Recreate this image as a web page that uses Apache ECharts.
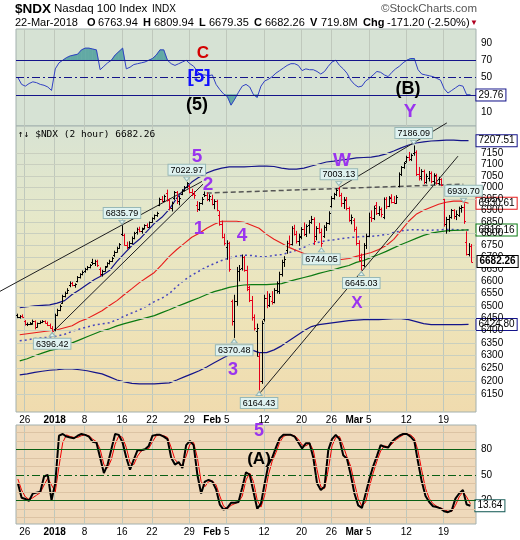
<!DOCTYPE html>
<html>
<head>
<meta charset="utf-8">
<script src="https://cdn.jsdelivr.net/npm/echarts@6/dist/echarts.min.js"></script>
<style>
html, body { margin: 0; padding: 0; background: #fff; }
#chart { width: 520px; height: 540px; }
</style>
</head>
<body>
<div id="chart"></div>
<script>
// trading days shown on the 2-hour chart
const days = [
  '2017-12-22','2017-12-26','2017-12-27','2017-12-28','2017-12-29',
  '2018-01-02','2018-01-03','2018-01-04','2018-01-05',
  '2018-01-08','2018-01-09','2018-01-10','2018-01-11','2018-01-12',
  '2018-01-16','2018-01-17','2018-01-18','2018-01-19',
  '2018-01-22','2018-01-23','2018-01-24','2018-01-25','2018-01-26',
  '2018-01-29','2018-01-30','2018-01-31','2018-02-01','2018-02-02',
  '2018-02-05','2018-02-06','2018-02-07','2018-02-08','2018-02-09',
  '2018-02-12','2018-02-13','2018-02-14','2018-02-15','2018-02-16',
  '2018-02-20','2018-02-21','2018-02-22','2018-02-23',
  '2018-02-26','2018-02-27','2018-02-28','2018-03-01','2018-03-02',
  '2018-03-05','2018-03-06','2018-03-07','2018-03-08','2018-03-09',
  '2018-03-12','2018-03-13','2018-03-14','2018-03-15','2018-03-16',
  '2018-03-19','2018-03-20','2018-03-21','2018-03-22'
]

// 2-hour bars, 3 per day: [open, high, low, close]
const bars = [
  [6462,6468,6450,6455],[6455,6462,6448,6458],[6458,6465,6452,6456],
  [6440,6442,6420,6425],[6425,6432,6418,6428],[6428,6434,6422,6430],
  [6428,6444,6424,6438],[6438,6441,6405,6415],[6415,6432,6412,6430],
  [6430,6440,6426,6436],[6436,6442,6430,6438],[6438,6441,6428,6432],
  [6432,6436,6418,6422],[6422,6428,6408,6412],[6412,6418,6396.42,6400],
  [6405,6468,6397,6462],[6462,6488,6458,6484],[6484,6505,6478,6500],
  [6512,6545,6508,6540],[6540,6558,6534,6552],[6552,6572,6548,6566],
  [6585,6600,6576,6594],[6594,6598,6580,6584],[6584,6592,6574,6588],
  [6600,6622,6596,6618],[6618,6634,6612,6630],[6630,6645,6625,6640],
  [6642,6656,6636,6652],[6652,6664,6646,6660],[6660,6672,6654,6668],
  [6680,6694,6668,6675],[6675,6690,6664,6684],[6684,6690,6660,6666],
  [6650,6658,6622,6632],[6632,6648,6620,6644],[6644,6664,6640,6660],
  [6664,6680,6658,6676],[6676,6690,6670,6686],[6686,6702,6680,6698],
  [6708,6728,6702,6724],[6724,6745,6720,6740],[6740,6760,6736,6756],
  [6800,6835.79,6790,6796],[6796,6800,6750,6754],[6754,6766,6735,6742],
  [6745,6768,6738,6762],[6762,6788,6756,6782],[6782,6808,6776,6804],
  [6808,6826,6796,6820],[6820,6830,6806,6812],[6812,6826,6800,6822],
  [6826,6840,6818,6836],[6836,6844,6824,6830],[6830,6852,6826,6848],
  [6852,6870,6846,6866],[6866,6882,6860,6878],[6878,6894,6872,6890],
  [6925,6955,6918,6950],[6950,6962,6935,6942],[6942,6968,6936,6962],
  [6975,6990,6938,6945],[6945,6952,6900,6910],[6910,6938,6895,6930],
  [6955,6984,6945,6978],[6978,6984,6928,6940],[6940,6962,6922,6952],
  [6972,6992,6966,6988],[6988,7006,6982,7000],[7000,7022.97,6996,7018],
  [7005,7012,6974,6980],[6980,6994,6962,6970],[6970,6984,6950,6966],
  [6922,6940,6893,6905],[6905,6936,6898,6930],[6930,6958,6924,6950],
  [6972,6982,6958,6968],[6968,6978,6940,6950],[6950,6970,6938,6962],
  [6950,6968,6922,6928],[6928,6948,6905,6940],[6940,6946,6896,6902],
  [6880,6898,6834,6842],[6842,6856,6780,6788],[6788,6800,6750,6760],
  [6745,6772,6690,6762],[6762,6766,6640,6652],[6520,6525,6420,6440],
  [6440,6545,6370.48,6520],[6520,6660,6500,6645],[6645,6668,6600,6652],
  [6655,6712,6645,6700],[6700,6706,6640,6648],[6648,6665,6560,6575],
  [6570,6582,6515,6525],[6525,6540,6440,6455],[6455,6465,6400,6410],
  [6400,6428,6296,6412],[6300,6312,6164.43,6200],[6200,6440,6190,6430],
  [6445,6545,6436,6530],[6530,6560,6490,6502],[6502,6550,6495,6540],
  [6520,6560,6505,6515],[6515,6572,6510,6565],[6565,6600,6550,6592],
  [6560,6640,6548,6632],[6632,6690,6620,6682],[6682,6705,6660,6695],
  [6730,6770,6715,6762],[6762,6792,6745,6755],[6755,6832,6750,6826],
  [6826,6838,6792,6800],[6800,6812,6758,6768],[6768,6800,6748,6792],
  [6785,6828,6776,6820],[6820,6848,6790,6798],[6798,6840,6786,6834],
  [6838,6858,6800,6852],[6852,6876,6842,6864],[6864,6870,6752,6768],
  [6792,6832,6772,6824],[6824,6846,6800,6808],[6808,6822,6744.05,6762],
  [6790,6836,6782,6828],[6828,6850,6812,6844],[6844,6896,6838,6890],
  [6918,6962,6912,6955],[6955,6976,6946,6970],[6970,6996,6962,6990],
  [6995,7003.13,6958,6965],[6965,6976,6915,6930],[6930,6958,6906,6945],
  [6950,6958,6900,6910],[6910,6916,6851,6860],[6860,6882,6840,6872],
  [6860,6866,6808,6820],[6820,6830,6750,6762],[6762,6772,6683,6700],
  [6690,6716,6645.03,6668],[6668,6760,6660,6752],[6752,6800,6735,6792],
  [6790,6890,6785,6872],[6872,6900,6850,6866],[6866,6920,6858,6912],
  [6925,6936,6880,6888],[6888,6918,6876,6905],[6905,6912,6870,6884],
  [6870,6956,6862,6948],[6948,6958,6906,6920],[6920,6962,6914,6954],
  [6958,6970,6930,6938],[6938,6962,6928,6932],[6932,6966,6928,6960],
  [7008,7066,7000,7060],[7060,7094,7050,7090],[7090,7112,7082,7108],
  [7116,7140,7108,7134],[7134,7157,7116,7124],[7124,7150,7116,7142],
  [7150,7186.09,7140,7158],[7158,7164,7050,7058],[7058,7090,7030,7040],
  [7050,7080,7030,7074],[7074,7078,7014,7024],[7024,7060,7016,7048],
  [7040,7072,7026,7064],[7064,7070,7018,7030],[7030,7062,7010,7054],
  [7050,7060,7012,7020],[7020,7046,7010,7036],[7036,7040,7005,7012],
  [6948,6950,6830,6840],[6840,6872,6800,6862],[6862,6880,6808,6870],
  [6872,6906,6864,6900],[6900,6905,6862,6874],[6874,6900,6858,6884],
  [6880,6916,6872,6908],[6908,6922,6890,6914],[6914,6930.70,6842,6853.46],
  [6763.94,6809.94,6708,6716],[6716,6760,6704,6748],[6748,6756,6679.35,6682.26]
]

// overlays, one value per day
const bbUpper = [6492,6496,6500,6502,6504,6511,6521,6546,6566,6587,
  6608,6624,6645,6683,6717,6750,6776,6810,6844,6870,
  6905,6953,6992,7023,7045,7063,7076,7085,7090,7090,
  7090,7092,7094,7094,7092,7085,7080,7080,7085,7094,
  7103,7112,7116,7121,7125,7130,7132,7134,7139,7148,
  7161,7175,7188,7197,7202,7206,7208,7210,7210,7208,7207.51]
const bbMid = [6359,6363,6368,6371,6374,6378,6385,6397,6406,6414,
  6422,6427,6431,6444,6458,6471,6483,6500,6517,6531,
  6550,6579,6605,6626,6643,6660,6674,6687,6697,6705,
  6709,6708,6703,6703,6708,6712,6720,6730,6742,6755,
  6764,6770,6774,6779,6783,6786,6788,6789,6792,6797,
  6805,6812,6816,6817,6815,6815,6816,6818,6818,6816,6816.16]
const bbLower = [6225,6229,6235,6239,6243,6245,6248,6248,6245,6241,
  6235,6229,6217,6205,6198,6192,6190,6190,6190,6192,
  6194,6205,6217,6229,6241,6256,6272,6288,6304,6320,
  6327,6323,6312,6312,6323,6339,6359,6379,6399,6416,
  6424,6428,6432,6436,6440,6442,6444,6444,6444,6446,
  6448,6448,6444,6436,6428,6424,6424,6424,6424,6424,6424.80]
const maRed = [6383,6387,6391,6395,6399,6403,6411,6419,6436,6448,
  6464,6480,6501,6521,6546,6570,6595,6616,6637,6670,
  6704,6733,6759,6785,6802,6823,6840,6853,6853,6853,
  6849,6836,6823,6797,6776,6759,6742,6729,6716,6708,
  6702,6697,6695,6691,6695,6704,6712,6720,6733,6750,
  6776,6814,6853,6883,6900,6913,6926,6935,6940,6940,6930.61]
const maGreen = [6280,6288,6300,6310,6320,6327,6339,6351,6363,6375,
  6387,6399,6407,6419,6428,6436,6444,6452,6460,6472,
  6484,6497,6509,6521,6533,6546,6558,6566,6575,6581,
  6585,6587,6587,6587,6589,6591,6600,6608,6616,6624,
  6633,6641,6649,6658,6666,6679,6687,6700,6712,6725,
  6740,6754,6767,6780,6793,6802,6808,6812,6814,6815,6816.16]

// indicators, two values per day
const rsi = [50,42,40,43,45,44,42,41,39,35, 60,67,70,73,75,76,77,82,84,84,
  83,82,59,63,67,70,76,80,84,60, 62,65,66,67,68,70,72,76,82,82,
  70,66,64,66,68,70,66,63,57,53, 53,52,53,42,36,31,28,18,25,33,
  40,42,39,30,27,40,46,48,51,55, 58,61,64,66,66,64,58,60,59,59,
  57,54,57,63,68,70,64,60,55,47, 42,39,40,46,49,53,57,56,53,51,
  56,60,63,67,70,72,72,59,54,53, 52,51,49,47,37,32,35,38,41,40, 30,29.76]
const stochK = [40,23,21.5,19.5,28,29,30,48,50,20, 40,96,98,95,94,93,96,98,97,95,
  89,88,70,52,62,80,98,97,88,70, 56,68,79,79,80,84,96,97,97,95,
  92,70,62,65,58,85,90,85,50,28, 42,44,42,33,15,9,11,17,17,18,
  35,53,50,30,10,16,40,62,70,82, 93,97,97,97,95,88,81,87,87,70,
  40,32,36,79,92,97,92,73,69,50, 28,14,11,28,45,60,72,85,83,82,
  89,93,96,98,98,95,90,65,42,25, 18,13,12,10.5,7,6,8,22,28,32, 15,13.64]
const stochD = [45,32,24,21,23,26,29,38,46,38, 30,60,88,97,95,94,94,96,97,96,
  92,89,80,62,58,68,86,96,94,82, 64,62,72,78,80,81,89,96,97,96,
  94,82,68,63,61,72,86,88,70,42, 36,42,43,38,25,13,10,14,16,18,
  25,44,52,42,20,12,26,50,66,76, 88,95,97,97,96,92,85,84,87,79,
  56,36,34,56,84,94,95,84,71,60, 40,22,13,18,36,52,66,78,84,83,
  86,91,94,97,98,97,93,78,55,34, 22,16,13,11,9,7,7,14,24,30, 24,16]

// axis ticks
const tickDates = ['2017-12-26','2018-01-02','2018-01-08','2018-01-16','2018-01-22','2018-01-29',
  '2018-02-05','2018-02-12','2018-02-20','2018-02-26','2018-03-05','2018-03-12','2018-03-19']
const tickText = ['26','2018','8','16','22','29','Feb 5','12','20','26','Mar 5','12','19']
const priceTicks = [6150,6200,6250,6300,6350,6400,6450,6500,6550,6600,6650,6700,
  6750,6800,6850,6900,6950,7000,7050,7100,7150]
const rsiTicks = [10,50,70,90]
const stochTicks = [20,50,80]
const stochGrid = [0,10,30,40,60,70,90,100]

// high/low callouts: [day, bar of day, side]
const callouts = [
  ['2017-12-29',2,'low'],['2018-01-16',0,'high'],['2018-01-26',2,'high'],
  ['2018-02-06',0,'low'],['2018-02-09',1,'low'],['2018-02-22',2,'low'],
  ['2018-02-27',0,'high'],['2018-03-02',0,'low'],['2018-03-13',0,'high'],
  ['2018-03-21',2,'high']
]

// drawn trend lines: [day0, price0, day1, price1, dashed]
const trendLines = [
  [-2.14,6559,24.87,7026,0],
  [4.81,6391,25.0,7014,0],
  [32.62,6155,59.09,7138,0],
  [43.3,7001,57.6,7288,0],
  [25.5,6975,59.8,7014,1]
]

const FONT = "'Liberation Sans', Arial, sans-serif"
const PURPLE = '#9a34ee'
const RED = '#e4001a'
const NAVY = '#14148a'
const TEAL = '#62a9a4'

const barX = i => Math.floor(i / 3) + ((i % 3) + 0.5) / 3
const daily = arr => arr.map((v, d) => [d + 0.5, v])
const halfX = h => h / 2 + 0.25
const half = arr => arr.map((v, h) => [halfX(h), v])
const tickPos = tickDates.map(d => days.indexOf(d) + 1 / 6)

const fmtTick = v => {
  const i = tickPos.findIndex(p => Math.abs(p - v) < 1e-4)
  if (i < 0) return ''
  const t = tickText[i]
  if (t === '2018') return '{b|2018}'
  if (t.indexOf(' ') > 0) {
    const [m, n] = t.split(' ')
    return '{b|' + m + '} ' + n + '{h|' + m + ' }'
  }
  return t
}

const xAxisFor = (gi, showLabels) => ({
  type: 'value', gridIndex: gi, min: 0, max: 61.5,
  axisLine: { show: false },
  axisTick: { show: false, customValues: tickPos },
  axisLabel: {
    show: showLabels, customValues: tickPos, formatter: fmtTick,
    fontFamily: FONT, fontSize: 10, color: '#000', margin: 3,
    rich: {
      b: { fontFamily: FONT, fontSize: 10, fontWeight: 'bold', color: '#000' },
      h: { fontFamily: FONT, fontSize: 10, fontWeight: 'bold', color: 'rgba(0,0,0,0)' }
    }
  },
  splitLine: { show: true, lineStyle: { color: '#bfc8bc', width: 1 } }
})

const tag = (text, border, dist, bold) => ({
  show: true, formatter: text, distance: dist, color: '#000',
  fontFamily: FONT, fontSize: 10, fontWeight: bold ? 'bold' : 'normal',
  backgroundColor: '#fff', borderColor: border, borderWidth: 1,
  padding: [1, 2, 0, 2], lineHeight: 10
})

const overlay = (name, arr, color, width, type, label) => ({
  name, type: 'line', xAxisIndex: 1, yAxisIndex: 1, data: daily(arr),
  symbol: 'none', silent: true, z: 3,
  lineStyle: { color, width, type },
  endLabel: label || { show: false }
})

const priceData = bars.map((b, i) => [barX(i), b[0], b[1], b[2], b[3],
  i > 0 && b[3] < bars[i - 1][3] ? 1 : 0])

// RSI segments for the overbought / oversold fills: [x0, v0, x1, v1, level, side]
const rsiFill = []
for (let i = 0; i < rsi.length - 1; i++) {
  rsiFill.push([halfX(i), rsi[i], halfX(i + 1), rsi[i + 1], 70, 1])
  rsiFill.push([halfX(i), rsi[i], halfX(i + 1), rsi[i + 1], 30, -1])
}

const calloutPoints = callouts.map(([d, k, side]) => {
  const i = days.indexOf(d) * 3 + k
  const v = side === 'high' ? bars[i][1] : bars[i][2]
  const up = side === 'high'
  return {
    coord: [barX(i), v],
    symbol: 'triangle', symbolSize: [6, 4],
    symbolRotate: up ? 180 : 0,
    symbolOffset: [0, up ? -3 : 3],
    itemStyle: { color: '#dff2f0', borderColor: '#97b8b6', borderWidth: 1 },
    label: {
      show: true, position: up ? 'top' : 'bottom', distance: 2,
      formatter: v.toFixed(2), color: '#000', fontFamily: FONT, fontSize: 9,
      backgroundColor: '#dff2f0', borderColor: '#97b8b6', borderWidth: 1,
      padding: [1, 2, 0, 2], lineHeight: 9
    }
  }
})

const lastClose = bars[bars.length - 1][3]

const txt = (x, y, text, opt) => ({
  type: 'text', x, y, z: 100, silent: true,
  style: Object.assign({ text, fontFamily: FONT, fontSize: 11, fill: '#000',
    align: 'left', verticalAlign: 'middle' }, opt)
})
const wave = (x, y, text, fill, size) => txt(x, y, text,
  { fill, fontSize: size, fontWeight: 'bold', align: 'center' })

const option = {
  animation: false,
  backgroundColor: '#fff',
  textStyle: { fontFamily: FONT },
  grid: [
    { left: 16, top: 29, width: 460, height: 97, show: true,
      backgroundColor: '#d6e2d4', borderColor: '#a3b0ae', borderWidth: 1 },
    { left: 16, top: 126, width: 460, height: 286, show: true,
      backgroundColor: { type: 'linear', x: 0, y: 0, x2: 0, y2: 1, colorStops: [
        { offset: 0, color: '#d8e3d3' }, { offset: 0.3, color: '#e5e8ca' },
        { offset: 0.65, color: '#eee4b9' }, { offset: 1, color: '#f0dbae' }] },
      borderColor: '#a3b0ae', borderWidth: 1 },
    { left: 16, top: 425, width: 460, height: 99, show: true,
      backgroundColor: '#efd9bb', borderColor: '#a3b0ae', borderWidth: 1 }
  ],
  xAxis: [xAxisFor(0, false), xAxisFor(1, true), xAxisFor(2, true)],
  yAxis: [
    { type: 'value', gridIndex: 0, position: 'right', min: -6.2, max: 106.2,
      axisLine: { show: false }, axisTick: { show: false }, splitLine: { show: false },
      axisLabel: { customValues: rsiTicks, fontFamily: FONT, fontSize: 10, color: '#000', margin: 5 } },
    { type: 'log', gridIndex: 1, position: 'right', min: 6082, max: 7274,
      axisLine: { show: false }, axisTick: { show: false }, splitLine: { show: false },
      axisLabel: { show: false } },
    { type: 'value', gridIndex: 2, position: 'right', min: -7.9, max: 108.6,
      axisLine: { show: false }, axisTick: { show: false }, splitLine: { show: false },
      axisLabel: { customValues: stochTicks, fontFamily: FONT, fontSize: 10, color: '#000', margin: 5 } }
  ],
  series: [
    // RSI panel
    { type: 'custom', xAxisIndex: 0, yAxisIndex: 0, silent: true, clip: true, z: 2,
      data: rsiFill, encode: { x: [0, 2], y: [1, 3] },
      renderItem: (params, api) => {
        const x0 = api.value(0), v0 = api.value(1)
        const x1 = api.value(2), v1 = api.value(3)
        const lvl = api.value(4), side = api.value(5)
        const a = side * (v0 - lvl), b = side * (v1 - lvl)
        let pts
        if (a <= 0 && b <= 0) return { type: 'group', children: [] }
        if (a > 0 && b > 0) pts = [[x0, lvl], [x0, v0], [x1, v1], [x1, lvl]]
        else {
          const xc = x0 + (a / (a - b)) * (x1 - x0)
          pts = a > 0 ? [[x0, lvl], [x0, v0], [xc, lvl]] : [[xc, lvl], [x1, v1], [x1, lvl]]
        }
        return { type: 'polygon', shape: { points: pts.map(p => api.coord(p)) },
          style: { fill: TEAL, stroke: TEAL, lineWidth: 0.6 } }
      } },
    { name: 'RSI', type: 'line', xAxisIndex: 0, yAxisIndex: 0, silent: true, symbol: 'none', z: 4,
      data: half(rsi), lineStyle: { color: '#3140c4', width: 1 },
      endLabel: tag(rsi[rsi.length - 1].toFixed(2), NAVY, 6),
      markLine: { silent: true, symbol: ['none', 'none'], label: { show: false },
        lineStyle: { color: NAVY, width: 1.2, type: 'solid' },
        data: [{ yAxis: 70 }, { yAxis: 30 },
          { yAxis: 50, lineStyle: { type: [8, 3, 2, 3] } }] } },

    // price panel grid lines and labels
    { type: 'line', xAxisIndex: 1, yAxisIndex: 1, data: [], silent: true, z: 1,
      markLine: { silent: true, symbol: ['none', 'none'],
        lineStyle: { color: '#c9cfbf', width: 1, type: 'solid' },
        label: { show: true, position: 'end', distance: 5, color: '#000',
          fontFamily: FONT, fontSize: 10 },
        data: priceTicks.map(v => ({ yAxis: v, label: { formatter: String(v) } })) } },

    overlay('BB upper', bbUpper, NAVY, 1.2, 'solid', tag(bbUpper[60].toFixed(2), NAVY, 8)),
    overlay('BB lower', bbLower, NAVY, 1.2, 'solid', tag(bbLower[60].toFixed(2), NAVY, 8)),
    overlay('BB mid', bbMid, '#4747bd', 1.5, [2, 3]),
    overlay('MA green', maGreen, '#0b7a12', 1.2, 'solid', tag(maGreen[60].toFixed(2), '#0b7a12', 8)),
    overlay('MA red', maRed, '#e81c1c', 1.1, 'solid', tag(maRed[60].toFixed(2), '#e81c1c', 8)),

    // trend lines
    { type: 'custom', xAxisIndex: 1, yAxisIndex: 1, silent: true, clip: false, z: 5,
      data: trendLines, encode: { x: [0, 2], y: [1, 3] },
      renderItem: (params, api) => {
        const p0 = api.coord([api.value(0), api.value(1)])
        const p1 = api.coord([api.value(2), api.value(3)])
        const dashed = api.value(4) === 1
        return { type: 'line',
          shape: { x1: p0[0], y1: p0[1], x2: p1[0], y2: p1[1] },
          style: { stroke: dashed ? '#555' : '#1e1e1e', lineWidth: dashed ? 1.5 : 1,
            lineDash: dashed ? [5, 3] : null } }
      } },

    // price bars
    { name: '$NDX', type: 'custom', xAxisIndex: 1, yAxisIndex: 1, silent: true, clip: true, z: 6,
      data: priceData, encode: { x: 0, y: [1, 2, 3, 4] },
      renderItem: (params, api) => {
        const x = api.value(0)
        const o = api.coord([x, api.value(1)])
        const h = api.coord([x, api.value(2)])
        const l = api.coord([x, api.value(3)])
        const c = api.coord([x, api.value(4)])
        const color = api.value(5) ? RED : '#000'
        const cx = Math.round(h[0]) + 0.5
        const oy = Math.round(o[1]) + 0.5
        const cy = Math.round(c[1]) + 0.5
        const st = { stroke: color, lineWidth: 1 }
        return { type: 'group', children: [
          { type: 'line', shape: { x1: cx, y1: h[1], x2: cx, y2: l[1] }, style: st },
          { type: 'line', shape: { x1: cx - 1.5, y1: oy, x2: cx, y2: oy }, style: st },
          { type: 'line', shape: { x1: cx, y1: cy, x2: cx + 1.5, y2: cy }, style: st }
        ] }
      },
      markPoint: { silent: true, z: 10,
        data: calloutPoints.concat([{
          coord: [61.5, lastClose], symbol: 'rect', symbolSize: 1,
          itemStyle: { color: 'rgba(0,0,0,0)' },
          label: Object.assign(tag(lastClose.toFixed(2), '#000', 1, true), { position: 'right' })
        }]) } },

    // stochastic panel
    { type: 'line', xAxisIndex: 2, yAxisIndex: 2, data: [], silent: true, z: 1,
      markLine: { silent: true, symbol: ['none', 'none'], label: { show: false },
        lineStyle: { color: '#dcc3a4', width: 1, type: 'solid' },
        data: stochGrid.map(v => ({ yAxis: v })) } },
    { name: '%D', type: 'line', xAxisIndex: 2, yAxisIndex: 2, silent: true, symbol: 'none', z: 3,
      data: half(stochD), lineStyle: { color: '#f00000', width: 1 },
      markLine: { silent: true, symbol: ['none', 'none'], label: { show: false },
        lineStyle: { color: '#0a5f14', width: 1.2, type: 'solid' },
        data: [{ yAxis: 80 }, { yAxis: 20 },
          { yAxis: 50, lineStyle: { type: [8, 3, 2, 3] } }] } },
    { name: '%K', type: 'line', xAxisIndex: 2, yAxisIndex: 2, silent: true, symbol: 'none', z: 4,
      data: half(stochK), lineStyle: { color: '#000', width: 2 },
      endLabel: tag(stochK[stochK.length - 1].toFixed(2), '#1b5e5a', 5) }
  ],
  graphic: [
    txt(15, 9, '$NDX', { fontSize: 13.5, fontWeight: 'bold' }),
    txt(54, 9, 'Nasdaq 100 Index', { fontSize: 11.5 }),
    txt(152, 9, 'INDX', { fontSize: 10 }),
    txt(477, 9, '\u00a9StockCharts.com', { fontSize: 11.5, fill: '#555', align: 'right' }),
    txt(15, 23, '22-Mar-2018'),
    txt(87, 23, 'O', { fontWeight: 'bold' }), txt(98, 23, '6763.94'),
    txt(143, 23, 'H', { fontWeight: 'bold' }), txt(154, 23, '6809.94'),
    txt(199, 23, 'L', { fontWeight: 'bold' }), txt(209, 23, '6679.35'),
    txt(254, 23, 'C', { fontWeight: 'bold' }), txt(265, 23, '6682.26'),
    txt(310, 23, 'V', { fontWeight: 'bold' }), txt(321, 23, '719.8M'),
    txt(363, 23, 'Chg', { fontWeight: 'bold' }), txt(387, 23, '-171.20 (-2.50%)'),
    txt(470, 23, '\u25bc', { fontSize: 8, fill: '#b00020' }),
    txt(18, 134.5, '\u2191\u2193 $NDX (2 hour) 6682.26', { fontFamily: 'DejaVu Sans Mono', fontSize: 9.5 }),
    wave(203, 53, 'C', '#d40000', 17),
    wave(199, 77, '[5]', '#1010ff', 19),
    wave(197, 105, '(5)', '#000', 18),
    wave(408, 89, '(B)', '#000', 18),
    wave(410, 112, 'Y', PURPLE, 19),
    wave(197, 157, '5', PURPLE, 19),
    wave(208, 185, '2', PURPLE, 19),
    wave(199, 229, '1', PURPLE, 19),
    wave(242, 236, '4', PURPLE, 19),
    wave(233, 370, '3', PURPLE, 18),
    wave(342, 161, 'W', PURPLE, 19),
    wave(357, 303, 'X', PURPLE, 17),
    wave(259, 431, '5', PURPLE, 18),
    wave(259, 459, '(A)', '#000', 17)
  ]
}

const chart = echarts.init(document.getElementById('chart'))
chart.setOption(option)
</script>
</body>
</html>
